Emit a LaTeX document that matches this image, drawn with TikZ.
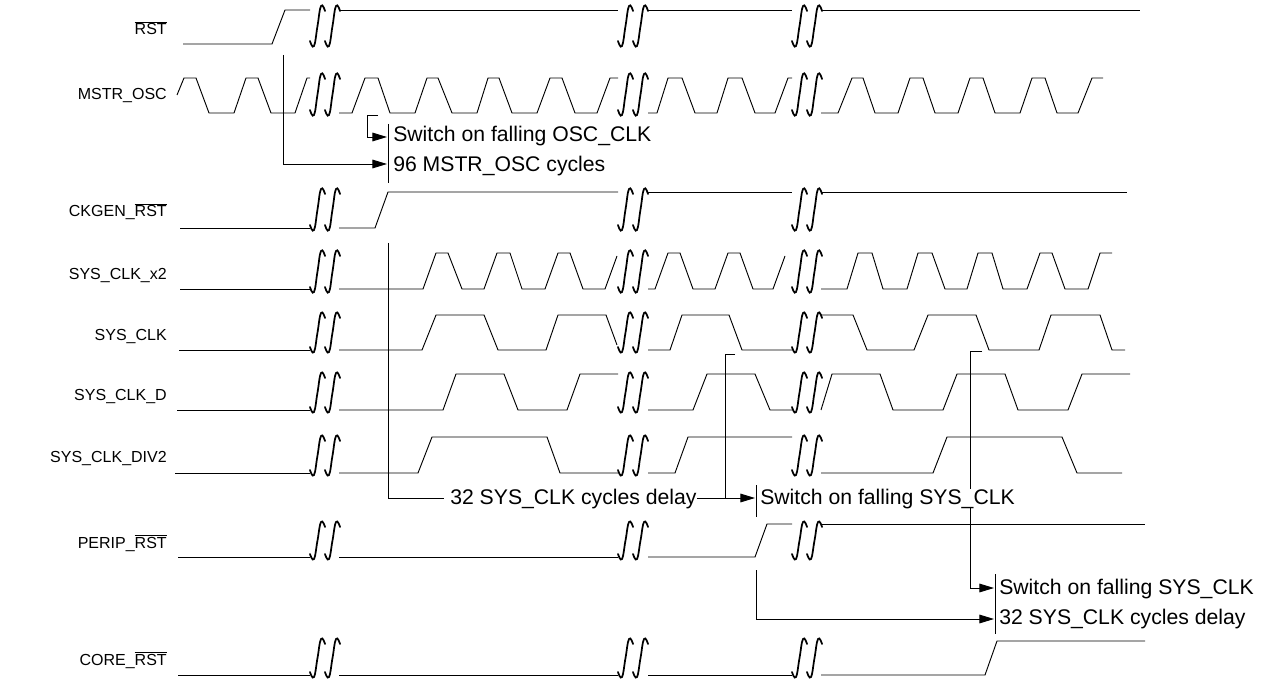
\documentclass[tikz,border=0pt]{standalone}
\usepackage{fontspec}
\setmainfont{Liberation Sans}
\usetikzlibrary{arrows.meta}
\newcommand{\ovl}[1]{$\overline{\mbox{#1}}$}
% one break mark (two integral-like strokes); #1 left x, #2 top y, #3 bottom y
\newcommand{\brkmark}[3]{%
  \foreach \off in {0,15}{%
    \draw[brkline] plot[smooth, tension=0.8] coordinates {({#1+\off+15},{#2+5}) ({#1+\off+11},{#2}) ({#1+\off+7.5},{(#2+#3)/2}) ({#1+\off+4},{#3}) ({#1+\off},{#3-5})};
  }%
}
\newcommand{\threebreaks}[2]{\brkmark{310}{#1}{#2}\brkmark{618}{#1}{#2}\brkmark{792}{#1}{#2}}
\begin{document}
\begin{tikzpicture}[x=0.75pt,y=-0.75pt]
\tikzset{
  sig/.style={line width=0.7pt, line join=miter},
  brkline/.style={line width=1.3pt, line cap=round},
  lbl/.style={font=\fontsize{12}{14}\selectfont, anchor=base east, inner sep=0pt},
  ann/.style={font=\fontsize{15.9}{18}\selectfont, anchor=base west, inner sep=0pt},
  conn/.style={line width=0.7pt},
  arr/.style={conn, -{Triangle[length=11pt,width=6.5pt]}},
}
\useasboundingbox (0,0) rectangle (1270,684);

% ---------- labels ----------
\node[lbl] (lrst) at (167,35) {\ovl{RST}};
\node[lbl] (losc) at (167,100) {MSTR\_OSC};
\node[lbl] (lckg) at (167,217) {CKGEN\_\ovl{RST}};
\node[lbl] (lx2) at (167,279) {SYS\_CLK\_x2};
\node[lbl] (lclk) at (167,340) {SYS\_CLK};
\node[lbl] (lclkd) at (167,400) {SYS\_CLK\_D};
\node[lbl] (ldiv) at (167,462) {SYS\_CLK\_DIV2};
\node[lbl] (lper) at (167,548) {PERIP\_\ovl{RST}};
\node[lbl] (lcore) at (167,665) {CORE\_\ovl{RST}};

% ---------- waveforms ----------
% RST
\draw[sig] (183,44)--(272,44)--(285,10)--(310,10);
\draw[sig] (339,10)--(618,10);
\draw[sig] (648,10)--(792,10);
\draw[sig] (821,10)--(1140,10);
\threebreaks{6}{46}
% MSTR_OSC
\draw[sig] (177,95)--(184,78)--(196,78)--(209,113)--(234,113)--(246,78)--(258,78)--(271,113)--(295,113)--(307,78)--(310,78);
\draw[sig] (339,113)--(352,113)--(365,78)--(378,78)--(390,113)--(415,113)--(427,78)--(438,78)--(452,113)--(477,113)--(488,78)--(499,78)--(512,113)--(537,113)--(550,78)--(562,78)--(575,113)--(597,113)--(610,78)--(618,78);
\draw[sig] (648,113)--(657,113)--(668,78)--(682,78)--(695,113)--(717,113)--(728,78)--(742,78)--(755,113)--(775,113)--(788,78)--(792,78);
\draw[sig] (821,113)--(838,113)--(852,78)--(863,78)--(875,113)--(898,113)--(910,78)--(923,78)--(935,113)--(958,113)--(970,78)--(983,78)--(995,113)--(1020,113)--(1032,78)--(1045,78)--(1057,113)--(1078,113)--(1092,78)--(1103,78);
\threebreaks{74}{115}
% CKGEN_RST
\draw[sig] (180,228)--(310,228);
\draw[sig] (339,228)--(375,228)--(388,192)--(618,192);
\draw[sig] (648,192)--(792,192);
\draw[sig] (821,192)--(1127,192);
\threebreaks{189}{230}
% SYS_CLK_x2
\draw[sig] (180,289)--(310,289);
\draw[sig] (339,289)--(423,289)--(436,253)--(448,253)--(462,289)--(484,289)--(497,253)--(510,253)--(522,289)--(545,289)--(558,253)--(570,253)--(583,289)--(605,289)--(617,256);
\draw[sig] (648,289)--(655,289)--(668,253)--(680,253)--(693,289)--(715,289)--(728,253)--(740,253)--(753,289)--(773,289)--(785,256);
\draw[sig] (821,289)--(847,289)--(858,253)--(872,253)--(883,289)--(907,289)--(918,253)--(932,253)--(945,289)--(967,289)--(978,253)--(992,253)--(1003,289)--(1027,289)--(1040,253)--(1052,253)--(1065,289)--(1088,289)--(1100,253)--(1112,253);
\threebreaks{251}{292}
% SYS_CLK
\draw[sig] (179,350)--(310,350);
\draw[sig] (339,350)--(422,350)--(436,315)--(484,315)--(498,350)--(546,350)--(558,315)--(606,315)--(617,345);
\draw[sig] (648,350)--(670,350)--(682,315)--(729,315)--(742,350)--(792,350);
\draw[sig] (821,315)--(853,315)--(867,350)--(914,350)--(928,315)--(976,315)--(989,350)--(1039,350)--(1051,315)--(1100,315)--(1112,350)--(1125,350);
\threebreaks{313}{352}
% SYS_CLK_D
\draw[sig] (177,410)--(310,410);
\draw[sig] (339,410)--(443,410)--(456,374)--(504,374)--(518,410)--(567,410)--(580,374)--(618,374);
\draw[sig] (648,410)--(693,410)--(707,374)--(755,374)--(770,410)--(792,410);
\draw[sig] (821,410)--(832,374)--(880,374)--(893,410)--(943,410)--(957,374)--(1005,374)--(1018,410)--(1068,410)--(1082,374)--(1130,374);
\threebreaks{373}{412}
% SYS_CLK_DIV2
\draw[sig] (175,473)--(310,473);
\draw[sig] (339,473)--(418,473)--(432,437)--(547,437)--(560,473)--(618,473);
\draw[sig] (648,473)--(675,473)--(688,437)--(792,437);
\draw[sig] (821,473)--(933,473)--(947,437)--(1062,437)--(1077,473)--(1122,473);
\threebreaks{436}{475}
% PERIP_RST
\draw[sig] (178,557)--(310,557);
\draw[sig] (339,557)--(618,557);
\draw[sig] (648,557)--(755,557)--(767,524)--(792,524);
\draw[sig] (821,524)--(1145,524);
\threebreaks{522}{559}
% CORE_RST
\draw[sig] (178,675)--(310,675);
\draw[sig] (339,675)--(618,675);
\draw[sig] (648,675)--(792,675);
\draw[sig] (821,675)--(985,675)--(997,641)--(1145,641);
\threebreaks{639}{677}

% ---------- annotations ----------
\node[ann] (t1) at (393,142) {Switch on falling OSC\_CLK};
\node[ann] (t2) at (393,172) {96 MSTR\_OSC cycles};
\node[ann] (t3) at (450,504) {32 SYS\_CLK cycles delay};
\node[ann] (t5) at (999,594) {Switch on falling SYS\_CLK};
\node[ann] (t6) at (999,624) {32 SYS\_CLK cycles delay};

\coordinate (r1) at (283,55);
\coordinate (a1) at (387,164);
\coordinate (f1) at (378,115);
\coordinate (f1c) at (367,115);
\coordinate (a2) at (387,137);
\draw[conn] (388,124) -- (388,183);
\draw[arr] (r1) |- (a1);
\draw[arr] (f1) -- (f1c) |- (a2);

\coordinate (r2) at (388,243);
\coordinate (h2) at (444,498);
\coordinate (a3) at (755,498);
\draw[conn] (r2) |- (h2);
\draw[arr] (t3.east |- a3) -- (a3);
\coordinate (f2) at (735,354);
\coordinate (f2c) at (725,354);
\draw[conn] (f2) -- (f2c) -- (f2c |- a3);
\draw[conn] (756,485) -- (756,517);

\coordinate (f3) at (982,351);
\coordinate (f3c) at (970,351);
\coordinate (a4) at (994,588);
\draw[arr] (f3) -- (f3c) |- (a4);
\coordinate (r3) at (756,570);
\coordinate (a5) at (994,619);
\draw[arr] (r3) |- (a5);
\draw[conn] (995,574) -- (995,634);

\node[ann, fill=white] (t4) at (760,504) {Switch on falling SYS\_CLK};
\end{tikzpicture}
\end{document}
